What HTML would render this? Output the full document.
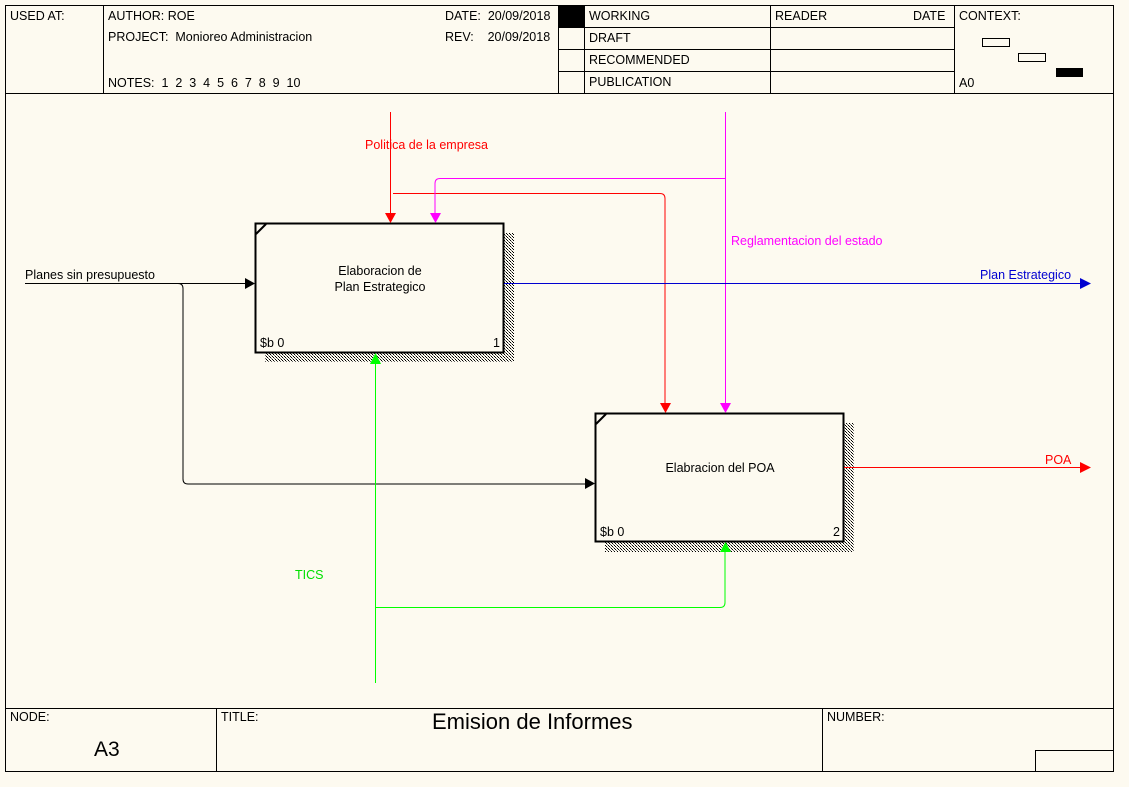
<!DOCTYPE html>
<html><head><style>
body{margin:0;background:#fdfaf0;}
svg{display:block;font-family:"Liberation Sans",Arial,sans-serif;}
</style></head><body>
<svg width="1129" height="787" viewBox="0 0 1129 787" xmlns="http://www.w3.org/2000/svg">
<defs>
<pattern id="h" width="3" height="3" patternUnits="userSpaceOnUse"><rect width="3" height="3" fill="#fdfaf0"/><rect width="1" height="1" fill="#000"/><rect x="1" y="1" width="1" height="1" fill="#666"/><rect x="2" y="2" width="1" height="1" fill="#000"/></pattern>
</defs>
<rect x="0" y="0" width="1129" height="787" fill="#fdfaf0"/>
<g fill="none" stroke="#000" stroke-width="1" shape-rendering="crispEdges">
<rect x="5.5" y="5.5" width="1108" height="766"/>
<line x1="5" y1="93.5" x2="1113" y2="93.5"/>
<line x1="103.5" y1="5" x2="103.5" y2="93"/>
<line x1="558.5" y1="5" x2="558.5" y2="93"/>
<line x1="584.5" y1="5" x2="584.5" y2="93"/>
<line x1="770.5" y1="5" x2="770.5" y2="93"/>
<line x1="954.5" y1="5" x2="954.5" y2="93"/>
<line x1="558" y1="27.5" x2="954" y2="27.5"/>
<line x1="558" y1="49.5" x2="954" y2="49.5"/>
<line x1="558" y1="71.5" x2="954" y2="71.5"/>
<line x1="5" y1="708.5" x2="1113" y2="708.5"/>
<line x1="216.5" y1="708" x2="216.5" y2="771"/>
<line x1="822.5" y1="708" x2="822.5" y2="771"/>
<rect x="1035.5" y="750.5" width="78" height="21"/>
<rect x="982.5" y="38.5" width="27" height="8"/>
<rect x="1018.5" y="53.5" width="27" height="8"/>
</g>
<rect x="559" y="6" width="25" height="21" fill="#000"/>
<rect x="1056" y="68" width="27" height="9" fill="#000"/>
<g font-size="12.5" fill="#000">
<text x="10" y="20">USED AT:</text>
<text x="108" y="20">AUTHOR:  ROE</text>
<text x="108" y="41" xml:space="preserve">PROJECT:  Monioreo Administracion</text>
<text x="108" y="87" xml:space="preserve">NOTES:  1  2  3  4  5  6  7  8  9  10</text>
<text x="445" y="20" xml:space="preserve">DATE:  20/09/2018</text>
<text x="445" y="41" xml:space="preserve">REV:    20/09/2018</text>
<text x="589" y="20">WORKING</text>
<text x="589" y="42">DRAFT</text>
<text x="589" y="64">RECOMMENDED</text>
<text x="589" y="86">PUBLICATION</text>
<text x="775" y="20">READER</text>
<text x="913" y="20">DATE</text>
<text x="959" y="20">CONTEXT:</text>
<text x="959" y="87">A0</text>
<text x="10" y="721">NODE:</text>
<text x="221" y="721">TITLE:</text>
<text x="827" y="721">NUMBER:</text>
<text x="94" y="756" font-size="21">A3</text>
<text x="432" y="729" font-size="22">Emision de Informes</text>
</g>
<rect x="265" y="233" width="249" height="129" fill="url(#h)"/>
<rect x="255.5" y="223.5" width="248" height="129" fill="#fdfaf0" stroke="#000" stroke-width="2"/>
<line x1="256" y1="234" x2="266" y2="224" stroke="#000" stroke-width="2"/>
<rect x="605" y="423" width="249" height="129" fill="url(#h)"/>
<rect x="595.5" y="413.5" width="248" height="128" fill="#fdfaf0" stroke="#000" stroke-width="2"/>
<line x1="596" y1="424" x2="606" y2="414" stroke="#000" stroke-width="2"/>
<g font-size="12.5" fill="#000">
<text x="380" y="275" text-anchor="middle">Elaboracion de</text>
<text x="380" y="291" text-anchor="middle">Plan Estrategico</text>
<text x="260" y="347">$b 0</text><text x="493" y="347">1</text>
<text x="720" y="472" text-anchor="middle">Elabracion del POA</text>
<text x="600" y="536">$b 0</text><text x="833" y="536">2</text>
</g>
<g fill="none" stroke-width="1">
<path d="M390.5 112V214" stroke="#ff0000"/>
<path d="M393 193.5H660q5 0 5 5V404" stroke="#ff0000"/>
<path d="M725.5 112V404" stroke="#ff00ff"/>
<path d="M725 178.5H440q-5 0-5 5V214" stroke="#ff00ff"/>
<path d="M25 283.5H246" stroke="#000"/>
<path d="M178 283.5q5 0 5 5V479q0 5 5 5H586" stroke="#000"/>
<path d="M504 283.5H1082" stroke="#0000d0"/>
<path d="M844 467.5H1082" stroke="#ff0000"/>
<path d="M375 607.5H720q5 0 5-5V551" stroke="#00ff00"/>
</g>
<rect x="375" y="362" width="1" height="321" fill="#00ff00"/>
<g>
<polygon points="385,213 396,213 390.5,223" fill="#ff0000"/>
<polygon points="660,403 671,403 665.5,413" fill="#ff0000"/>
<polygon points="720,403 731,403 725.5,413" fill="#ff00ff"/>
<polygon points="430,213 441,213 435.5,223" fill="#ff00ff"/>
<polygon points="245,278 245,289 255,283.5" fill="#000"/>
<polygon points="585,478 585,489 595,483.5" fill="#000"/>
<polygon points="1080,278 1080,289 1091,283.5" fill="#0000d0"/>
<polygon points="1080,462 1080,473 1091,467.5" fill="#ff0000"/>
<polygon points="370,364 381,364 375.5,353" fill="#00ff00"/>
<polygon points="720,552 731,552 725.5,542" fill="#00ff00"/>
</g>
<g font-size="12.5">
<text x="365" y="149" fill="#ff0000">Politica de la empresa</text>
<text x="731" y="245" fill="#ff00ff">Reglamentacion del estado</text>
<text x="25" y="279" fill="#000">Planes sin presupuesto</text>
<text x="980" y="279" fill="#0000d0">Plan Estrategico</text>
<text x="1045" y="464" fill="#ff0000">POA</text>
<text x="295" y="579" fill="#00e000">TICS</text>
</g>
</svg>
</body></html>
